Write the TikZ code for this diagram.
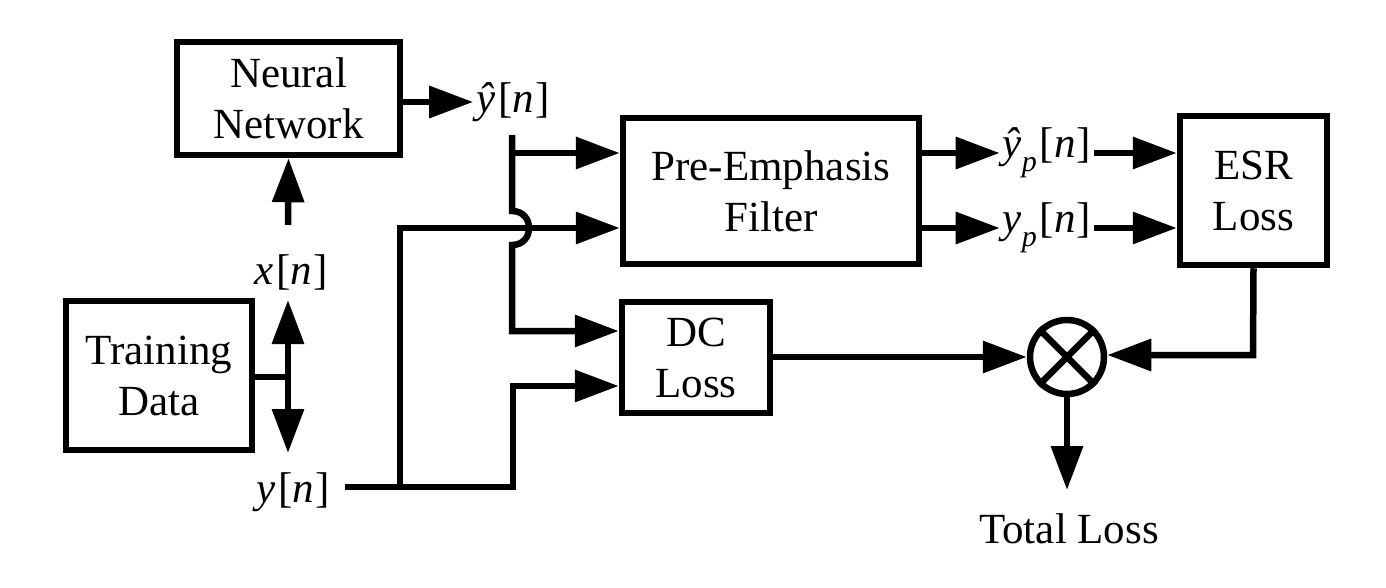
\documentclass[tikz,border=0pt]{standalone}
\usepackage{fontspec}
\setmainfont{Liberation Serif}
\usetikzlibrary{arrows.meta}
\newcommand{\subp}{\raisebox{-0.32em}{\fontsize{30}{30}\selectfont\itshape p}}
\newcommand{\brn}{\kern3pt[\textit{n}\kern1pt]}
\begin{document}
\begin{tikzpicture}[x=1pt,y=-1pt,
  every node/.style={font=\fontsize{43}{51}\selectfont},
  blk/.style={draw,line width=6.5pt,inner sep=0pt,align=center},
  lbl/.style={inner sep=3pt},
  wire/.style={line width=6.5pt},
  arr/.style={wire,-{Triangle[length=44pt,width=31pt]}},
  darr/.style={wire,{Triangle[length=44pt,width=31pt]}-{Triangle[length=44pt,width=31pt]}}]
\useasboundingbox (0,0) rectangle (1386,588);
% blocks
\node[blk,minimum width=223pt,minimum height=113pt] (nn) at (288.5,98.5) {Neural\\Network};
\node[blk,minimum width=296pt,minimum height=146pt] (pre) at (771,191) {Pre-Emphasis\\Filter};
\node[blk,minimum width=147pt,minimum height=149pt] (esr) at (1253.5,190.5) {ESR\\Loss};
\node[blk,minimum width=148pt,minimum height=111pt] (dc) at (696,357.5) {DC\\Loss};
\node[blk,minimum width=186pt,minimum height=149pt] (td) at (159,375.5) {Training\\Data};
\node[draw,circle,line width=6.5pt,minimum size=74pt,inner sep=0pt] (mul) at (1067,357) {};
\draw[line width=6.5pt] (mul.45) -- (mul.225) (mul.135) -- (mul.-45);
% labels
\node[lbl] (yhat) at (513,102) {\textit{ŷ}\brn};
\node[lbl] (x) at (291,272) {\textit{x}\brn};
\node[lbl] (y) at (293,492) {\textit{y}\brn};
\node[lbl] (yhp) at (1047,153) {\textit{ŷ}\subp\brn};
\node[lbl] (yp) at (1047,228) {\textit{y}\subp\brn};
\node[lbl] (tot) at (1069,529) {Total Loss};
% coordinates
\coordinate (ytop) at (512,135);
\coordinate (hopa) at (512,211);
\coordinate (hopb) at (512,245);
\coordinate (ycorner) at (512,331);
\coordinate (yl) at (345,487);
\coordinate (ysplit) at (400,487);
\coordinate (yr) at (513,487);
\coordinate (tdj) at (288,377);
\coordinate (xup) at (288,300);
\coordinate (ydn) at (288,453);
\coordinate (xarr) at (288,225);
\coordinate (esrc) at (1253,355);
\coordinate (totend) at (1067,490);
% connectors
\draw[arr] (nn.east |- yhat) -- (yhat.west);
\draw[arr] (ytop) -- (hopa) .. controls (534.7,211) and (534.7,245) .. (hopb) -- (ycorner) -- (dc.west |- ycorner);
\draw[arr] (512,153) -- (pre.west |- 512,153);
\draw[arr] (ysplit) -- (400,228) -- (pre.west |- 400,228);
\draw[arr] (yl) -- (yr) -- (513,386) -- (dc.west |- 513,386);
\draw[arr] (pre.east |- yhp) -- (yhp.west);
\draw[arr] (pre.east |- yp) -- (yp.west);
\draw[arr] (yhp.east) -- (esr.west |- yhp);
\draw[arr] (yp.east) -- (esr.west |- yp);
\draw[arr] (esr.south) -- (esrc) -- (mul.east |- esrc);
\draw[arr] (dc.east |- mul) -- (mul.west);
\draw[arr] (mul.south) -- (totend);
\draw[wire] (td.east |- tdj) -- (tdj);
\draw[darr] (xup) -- (ydn);
\draw[arr] (xarr) -- (nn.south);
\end{tikzpicture}
\end{document}
